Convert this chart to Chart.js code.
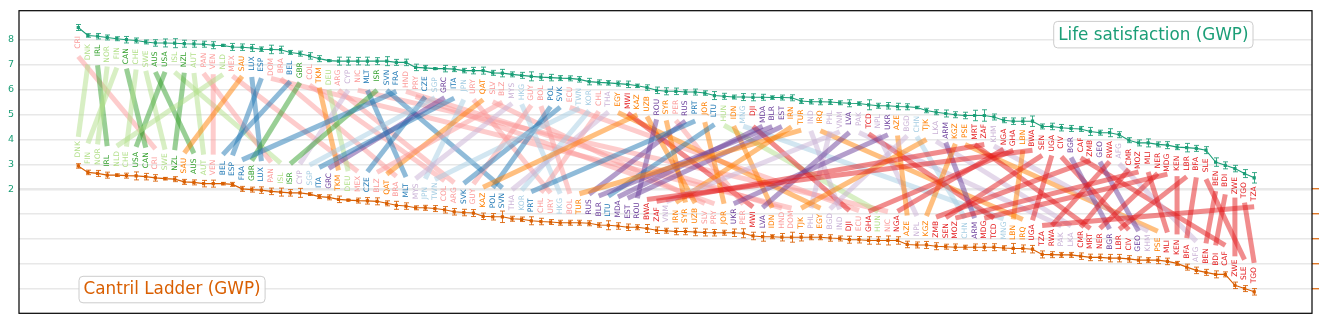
<!DOCTYPE html>
<html>
<head>
<meta charset="utf-8">
<script src="https://cdn.jsdelivr.net/npm/chart.js"></script>
<style>
  body { margin: 0; background: #fff; }
  #wrap { width: 1323px; height: 324px; }
</style>
</head>
<body>
<div id="wrap"><canvas id="rankChart" width="1323" height="324"></canvas></div>

<script>
// life satisfaction ranking (top row), sorted high -> low
const topCodes = ['CRI','DNK','IRL','NOR','FIN','CAN','CHE','SWE','AUS','USA','ISL','NZL','AUT','PAN','VEN','NLD',
  'MEX','SAU','LUX','ESP','DOM','BRA','BEL','GBR','COL','TKM','DEU','ARG','CYP','NIC','MLT','ISR','SVN','FRA','HND',
  'PRY','CZE','SGP','GRC','ITA','JPN','URY','QAT','SLV','BLZ','MYS','HKG','GUY','BOL','POL','SVK','ECU','TWN','KOR',
  'CHL','THA','EGY','MWI','KAZ','UZB','ROU','SYR','PER','RUS','PRT','JOR','LTU','HUN','IDN','MNG','DJI','MDA','BLR',
  'EST','IRN','TUR','IND','IRQ','PHL','VNM','LVA','PAK','TCD','NPL','UKR','AZE','BGD','CHN','TJK','LKA','ARM','KGZ',
  'PSE','MRT','ZAF','KHM','NGA','GHA','LBN','BWA','SEN','UGA','CIV','BGR','CAF','ZMB','GEO','RWA','AFG','CMR','MOZ',
  'MLI','NER','MDG','KEN','LBR','BFA','SLE','BEN','BDI','ZWE','TGO','TZA'];
const topValues = [8.49,8.17,8.14,8.09,8.04,8.00,7.97,7.91,7.87,7.87,7.86,7.84,7.83,7.82,7.78,7.77,
  7.71,7.70,7.67,7.62,7.61,7.60,7.49,7.44,7.35,7.24,7.16,7.14,7.14,7.14,7.14,7.14,7.14,7.09,7.09,
  6.89,6.87,6.84,6.84,6.82,6.76,6.76,6.76,6.67,6.66,6.61,6.57,6.53,6.50,6.48,6.46,6.45,6.41,6.32,
  6.29,6.27,6.24,6.21,6.15,6.08,5.97,5.93,5.93,5.90,5.90,5.86,5.76,5.73,5.70,5.70,5.69,5.69,5.68,
  5.68,5.67,5.54,5.51,5.51,5.50,5.47,5.45,5.44,5.39,5.35,5.35,5.32,5.31,5.28,5.16,5.09,5.04,4.99,
  4.96,4.96,4.96,4.90,4.77,4.73,4.73,4.73,4.52,4.52,4.47,4.44,4.42,4.32,4.27,4.27,4.19,3.97,3.86,
  3.86,3.80,3.77,3.69,3.67,3.64,3.57,3.09,2.96,2.83,2.63,2.46];
const topErrors = [.12,.07,.11,.10,.08,.13,.10,.08,.13,.16,.18,.14,.13,.12,.14,.04,
  .14,.13,.14,.09,.17,.14,.08,.10,.13,.12,.03,.16,.16,.15,.16,.14,.18,.12,.13,
  .13,.10,.03,.13,.10,.09,.13,.14,.10,.15,.10,.12,.18,.13,.13,.10,.10,.11,.13,
  .10,.09,.10,.13,.07,.11,.13,.14,.13,.09,.12,.09,.16,.12,.08,.14,.14,.12,.07,
  .10,.12,.10,.09,.12,.10,.08,.14,.07,.20,.10,.13,.13,.12,.05,.09,.10,.14,.12,
  .13,.21,.23,.12,.10,.13,.13,.21,.10,.13,.13,.12,.10,.16,.10,.16,.12,.10,.12,
  .16,.10,.14,.10,.17,.12,.14,.17,.14,.13,.16,.21];

// Cantril ladder ranking (bottom row), sorted high -> low
const bottomCodes = ['DNK','FIN','NOR','IRL','NLD','CHE','USA','CAN','CRI','SWE','NZL','SAU','AUS','AUT','VEN',
  'BEL','ESP','FRA','GBR','LUX','PAN','ISL','ISR','CYP','SGP','ITA','GRC','TKM','DEU','MEX','CZE','BLZ','QAT','BRA',
  'MLT','MYS','JPN','TWN','COL','ARG','SVK','GUY','KAZ','POL','SVN','THA','KOR','PRT','CHL','URY','HKG','BOL','TUR',
  'RUS','BLR','LTU','MDA','EST','ROU','BWA','ZAF','VNM','IRN','SYR','UZB','SLV','PRY','JOR','UKR','PER','MWI','LVA',
  'IDN','HND','DOM','TJK','PHL','EGY','BGD','IND','DJI','ECU','GHA','HUN','NIC','NGA','AZE','NPL','KGZ','ZMB','SEN',
  'MOZ','CHN','ARM','MDG','TCD','MNG','LBN','IRQ','UGA','TZA','RWA','PAK','LKA','CMR','MRT','NER','BGR','LBR','CIV',
  'GEO','KHM','PSE','MLI','KEN','BFA','AFG','BEN','BDI','CAF','ZWE','SLE','TGO'];
const bottomValues = [7.92,7.66,7.62,7.55,7.55,7.53,7.52,7.49,7.44,7.41,7.39,7.28,7.26,7.21,7.21,
  7.21,7.18,7.00,6.97,6.95,6.90,6.87,6.84,6.84,6.79,6.69,6.66,6.58,6.55,6.53,6.52,6.50,6.42,6.34,
  6.31,6.24,6.24,6.21,6.16,6.08,6.05,6.03,5.90,5.88,5.88,5.80,5.78,5.72,5.69,5.67,5.64,5.64,5.64,
  5.62,5.55,5.54,5.51,5.46,5.46,5.41,5.34,5.32,5.29,5.29,5.27,5.25,5.24,5.24,5.24,5.22,5.11,5.08,
  5.08,5.06,5.06,5.06,5.06,5.06,5.03,5.01,4.96,4.96,4.93,4.93,4.93,4.93,4.77,4.75,4.75,4.70,4.68,
  4.66,4.66,4.66,4.66,4.66,4.63,4.61,4.61,4.58,4.37,4.36,4.35,4.35,4.30,4.25,4.25,4.22,4.22,4.19,
  4.14,4.14,4.14,4.09,4.01,3.86,3.73,3.65,3.57,3.57,3.13,3.00,2.87];
const bottomErrors = [.09,.09,.12,.12,.05,.10,.16,.13,.13,.05,.10,.10,.10,.13,.14,
  .05,.08,.10,.10,.13,.13,.16,.13,.18,.05,.08,.10,.13,.03,.10,.13,.14,.10,.16,
  .13,.08,.10,.12,.13,.13,.13,.14,.13,.13,.23,.10,.09,.16,.13,.10,.10,.10,.10,
  .10,.09,.18,.13,.13,.10,.16,.13,.10,.13,.13,.15,.14,.13,.10,.15,.18,.15,.18,
  .08,.15,.20,.15,.10,.10,.13,.10,.14,.13,.15,.15,.18,.15,.13,.12,.14,.14,.10,
  .13,.08,.13,.14,.14,.09,.20,.14,.15,.14,.12,.10,.10,.13,.13,.13,.15,.15,.13,
  .13,.10,.14,.13,.08,.12,.13,.12,.14,.10,.13,.12,.13];

// region of each country, used for line and label colours
const regions = {
  westernEurope: ['DNK','NOR','FIN','CHE','SWE','ISL','AUT','NLD','DEU','HUN'],
  anglosphere: ['IRL','CAN','AUS','USA','NZL','GBR','ISR'],
  latinAmerica: ['CRI','PAN','VEN','MEX','DOM','BRA','COL','ARG','NIC','HND','PRY','URY','SLV','BLZ','GUY','BOL','ECU','CHL','PER'],
  southCentralEurope: ['LUX','ESP','BEL','MLT','SVN','FRA','CZE','ITA','POL','SVK','PRT','LTU'],
  eastAsia: ['SGP','JPN','HKG','TWN','KOR','MNG','CHN'],
  easternEurope: ['GRC','ROU','RUS','MDA','BLR','EST','LVA','UKR','ARM','BGR','GEO'],
  southAsia: ['CYP','MYS','THA','IND','PHL','VNM','PAK','NPL','BGD','LKA','KHM','AFG'],
  middleEastCentralAsia: ['SAU','TKM','QAT','EGY','KAZ','UZB','SYR','JOR','IDN','IRN','TUR','IRQ','AZE','TJK','KGZ','PSE','LBN'],
  africa: ['MWI','DJI','TCD','MRT','ZAF','NGA','GHA','BWA','SEN','UGA','CIV','CAF','ZMB','RWA','CMR','MOZ','MLI','NER',
    'MDG','KEN','LBR','BFA','SLE','BEN','BDI','ZWE','TGO','TZA']
};
const regionColors = {
  westernEurope: '#b2df8a', anglosphere: '#33a02c', latinAmerica: '#fb9a99',
  southCentralEurope: '#1f78b4', eastAsia: '#a6cee3', easternEurope: '#6a3d9a',
  southAsia: '#cab2d6', middleEastCentralAsia: '#ff7f00', africa: '#e31a1c'
};

const leftTicks = [2, 3, 4, 5, 6, 7, 8];
const rightTicks = [3, 4, 5, 6, 7];

const GREEN = '#1b9e77';
const ORANGE = '#d95f02';
const LABEL_GAP = 8.5;   // px between a point and its code label
const LINK_GAP = 29;     // px between a point and its link end

const colorOf = {};
Object.keys(regions).forEach(r => regions[r].forEach(c => { colorOf[c] = regionColors[r]; }));

function hexA(hex, a) {
  const n = parseInt(hex.slice(1), 16);
  return 'rgba(' + (n >> 16) + ',' + ((n >> 8) & 255) + ',' + (n & 255) + ',' + a + ')';
}

// links between the two rankings + rotated country codes
const slopeLinks = {
  id: 'slopeLinks',
  beforeDatasetsDraw(chart) {
    const ctx = chart.ctx, x = chart.scales.x, yl = chart.scales.yLeft, yr = chart.scales.yRight;
    ctx.save();
    ctx.lineWidth = 5;
    ctx.lineCap = 'butt';
    topCodes.forEach((c, i) => {
      const j = bottomCodes.indexOf(c);
      ctx.strokeStyle = hexA(colorOf[c], 0.5);
      ctx.beginPath();
      ctx.moveTo(x.getPixelForValue(i), yl.getPixelForValue(topValues[i]) + LINK_GAP);
      ctx.lineTo(x.getPixelForValue(j), yr.getPixelForValue(bottomValues[j]) - LINK_GAP);
      ctx.stroke();
    });

    ctx.font = '7.5px "DejaVu Sans"';
    ctx.textBaseline = 'middle';
    topCodes.forEach((c, i) => {
      ctx.save();
      ctx.translate(x.getPixelForValue(i), yl.getPixelForValue(topValues[i]) + LABEL_GAP);
      ctx.rotate(-Math.PI / 2);
      ctx.textAlign = 'right';
      ctx.fillStyle = colorOf[c];
      ctx.fillText(c, 0, 0);
      ctx.restore();
    });
    bottomCodes.forEach((c, j) => {
      ctx.save();
      ctx.translate(x.getPixelForValue(j), yr.getPixelForValue(bottomValues[j]) - LABEL_GAP);
      ctx.rotate(-Math.PI / 2);
      ctx.textAlign = 'left';
      ctx.fillStyle = colorOf[c];
      ctx.fillText(c, 0, 0);
      ctx.restore();
    });
    ctx.restore();
  }
};

// vertical error bars with caps
const errorBars = {
  id: 'errorBars',
  afterDatasetsDraw(chart) {
    const ctx = chart.ctx, x = chart.scales.x;
    const sets = [
      { vals: topValues, errs: topErrors, y: chart.scales.yLeft, color: hexA(GREEN, 0.85) },
      { vals: bottomValues, errs: bottomErrors, y: chart.scales.yRight, color: hexA(ORANGE, 0.85) }
    ];
    ctx.save();
    ctx.lineWidth = 1;
    sets.forEach(s => {
      ctx.strokeStyle = s.color;
      s.vals.forEach((v, i) => {
        const px = Math.round(x.getPixelForValue(i)) + 0.5;
        const y1 = s.y.getPixelForValue(v + s.errs[i]);
        const y2 = s.y.getPixelForValue(v - s.errs[i]);
        ctx.beginPath();
        ctx.moveTo(px, y1); ctx.lineTo(px, y2);
        ctx.moveTo(px - 2.5, y1); ctx.lineTo(px + 2.5, y1);
        ctx.moveTo(px - 2.5, y2); ctx.lineTo(px + 2.5, y2);
        ctx.stroke();
      });
    });
    ctx.restore();
  }
};

// axes frame and the two series tags
const frameAndTags = {
  id: 'frameAndTags',
  afterDraw(chart) {
    const ctx = chart.ctx, a = chart.chartArea;
    ctx.save();
    ctx.strokeStyle = '#000';
    ctx.lineWidth = 1.2;
    ctx.strokeRect(a.left, a.top, a.right - a.left, a.bottom - a.top);

    function tag(text, color, left, top, alignRight) {
      ctx.font = '16.8px "DejaVu Sans"';
      const w = ctx.measureText(text).width + 9, h = 26.5;
      const bx = alignRight ? left - w : left;
      ctx.beginPath();
      ctx.roundRect(bx, top, w, h, 4);
      ctx.fillStyle = 'rgba(255,255,255,0.85)';
      ctx.fill();
      ctx.strokeStyle = '#cccccc';
      ctx.lineWidth = 1;
      ctx.stroke();
      ctx.fillStyle = color;
      ctx.textAlign = 'left';
      ctx.textBaseline = 'middle';
      ctx.fillText(text, bx + 4.5, top + h / 2 + 0.5);
    }
    tag('Life satisfaction (GWP)', GREEN, a.right - 59, a.top + 10.7, true);
    tag('Cantril Ladder (GWP)', ORANGE, a.left + 60, a.bottom - 37, false);
    ctx.restore();
  }
};

new Chart(document.getElementById('rankChart'), {
  type: 'line',
  data: {
    datasets: [{
      label: 'Life satisfaction (GWP)',
      yAxisID: 'yLeft',
      data: topValues.map((v, i) => ({ x: i, y: v })),
      borderColor: GREEN,
      backgroundColor: GREEN,
      borderWidth: 1.1,
      pointStyle: 'rect',
      pointRadius: 1.5,
      tension: 0
    }, {
      label: 'Cantril Ladder (GWP)',
      yAxisID: 'yRight',
      data: bottomValues.map((v, i) => ({ x: i, y: v })),
      borderColor: ORANGE,
      backgroundColor: ORANGE,
      borderWidth: 1.1,
      pointStyle: 'rect',
      pointRadius: 1.5,
      tension: 0
    }]
  },
  options: {
    responsive: false,
    animation: false,
    layout: { padding: { top: 5, bottom: 6, left: 0, right: 0 } },
    plugins: { legend: { display: false }, tooltip: { enabled: false } },
    scales: {
      x: {
        type: 'linear',
        display: false,
        min: -6.15,
        max: 128.0
      },
      yLeft: {
        position: 'left',
        min: -2.976,
        max: 9.164,
        afterBuildTicks: s => { s.ticks = leftTicks.map(v => ({ value: v })); },
        afterFit: s => { s.width = 19; },
        border: { display: false },
        grid: { color: '#e8e8e8', lineWidth: 1.5, drawTicks: false },
        ticks: { color: GREEN, padding: 5, font: { family: 'DejaVu Sans', size: 9.5 } }
      },
      yRight: {
        position: 'right',
        min: 2.008,
        max: 14.148,
        afterBuildTicks: s => { s.ticks = rightTicks.map(v => ({ value: v })); },
        afterFit: s => { s.width = 11; },
        border: { display: false },
        grid: { color: '#e8e8e8', lineWidth: 1.5, drawTicks: true, tickLength: 7, tickColor: ORANGE, tickWidth: 1.2 },
        ticks: { display: false }
      }
    }
  },
  plugins: [slopeLinks, errorBars, frameAndTags]
});
</script>
</body>
</html>
